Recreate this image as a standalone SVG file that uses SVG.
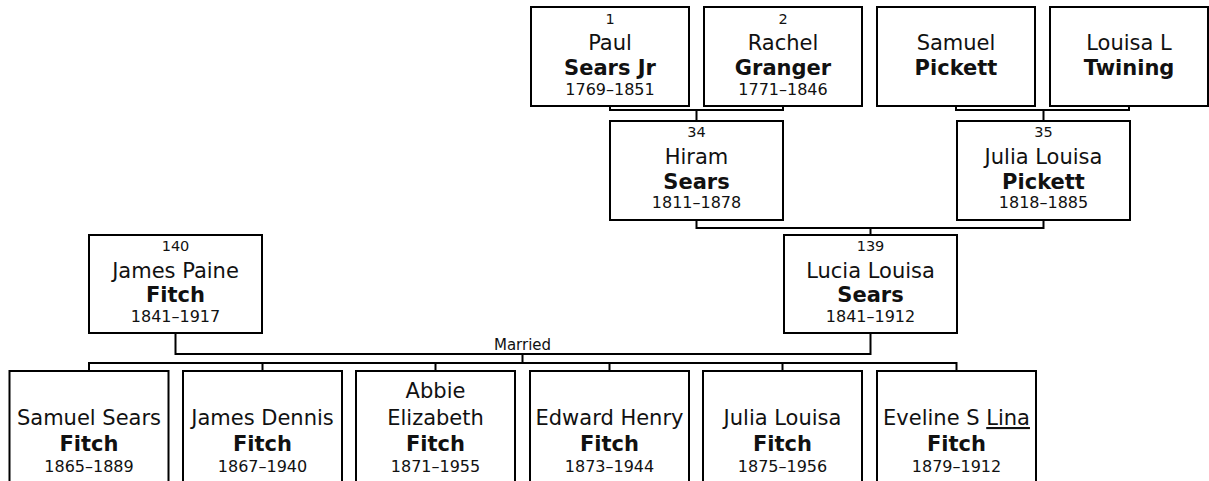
<svg xmlns="http://www.w3.org/2000/svg" width="1209" height="481" viewBox="0 0 1209 481">
<style>
.box{fill:#fff;stroke:#000;stroke-width:2}
.con{fill:none;stroke:#000;stroke-width:2}
text{font-family:"DejaVu Sans",Verdana,sans-serif;fill:#111;text-anchor:middle}
.num{font-size:14.5px}
.nm{font-size:21px}
.sn{font-size:21px;font-weight:bold}
.dt{font-size:16px}
.lbl{font-size:15px}
</style>
<rect width="1209" height="481" fill="#fff"/>
<g id="connectors">
<path class="con" d="M610 107V110H783V107M696.5 110V121"/>
<path class="con" d="M956 107V110H1129V107M1043.5 110V121"/>
<path class="con" d="M696.5 221V228H1043.5V221M870.5 228V235"/>
<path class="con" d="M175.5 334V354H870.5V334M522.5 354V363"/>
<path class="con" d="M89 371V363H956.5V371M262.5 363V371M435.5 363V371M609.5 363V371M782.5 363V371"/>
<text class="lbl" x="522.5" y="350">Married</text>
</g>
<g id="p1"><rect class="box" x="531" y="7" width="158" height="99"/>
<text class="num" x="610" y="24">1</text><text class="nm" x="610" y="50">Paul</text><text class="sn" x="610" y="75">Sears Jr</text><text class="dt" x="610" y="95">1769–1851</text></g>
<g id="p2"><rect class="box" x="704" y="7" width="158" height="99"/>
<text class="num" x="783" y="24">2</text><text class="nm" x="783" y="50">Rachel</text><text class="sn" x="783" y="75">Granger</text><text class="dt" x="783" y="95">1771–1846</text></g>
<g id="p3"><rect class="box" x="877" y="7" width="158" height="99"/>
<text class="nm" x="956" y="50">Samuel</text><text class="sn" x="956" y="75">Pickett</text></g>
<g id="p4"><rect class="box" x="1050" y="7" width="158" height="99"/>
<text class="nm" x="1129" y="50">Louisa L</text><text class="sn" x="1129" y="75">Twining</text></g>
<g id="p34"><rect class="box" x="610" y="121" width="173" height="99"/>
<text class="num" x="696.5" y="137">34</text><text class="nm" x="696.5" y="164">Hiram</text><text class="sn" x="696.5" y="189">Sears</text><text class="dt" x="696.5" y="208">1811–1878</text></g>
<g id="p35"><rect class="box" x="957" y="121" width="173" height="99"/>
<text class="num" x="1043.5" y="137">35</text><text class="nm" x="1043.5" y="164">Julia Louisa</text><text class="sn" x="1043.5" y="189">Pickett</text><text class="dt" x="1043.5" y="208">1818–1885</text></g>
<g id="p139"><rect class="box" x="784" y="235" width="173" height="98"/>
<text class="num" x="870.5" y="251">139</text><text class="nm" x="870.5" y="278">Lucia Louisa</text><text class="sn" x="870.5" y="302">Sears</text><text class="dt" x="870.5" y="322">1841–1912</text></g>
<g id="p140"><rect class="box" x="89" y="235" width="173" height="98"/>
<text class="num" x="175.5" y="251">140</text><text class="nm" x="175.5" y="278">James Paine</text><text class="sn" x="175.5" y="302">Fitch</text><text class="dt" x="175.5" y="322">1841–1917</text></g>
<g id="c1"><rect class="box" x="9.5" y="371" width="159" height="130"/>
<text class="nm" x="89" y="425">Samuel Sears</text><text class="sn" x="89" y="451">Fitch</text><text class="dt" x="89" y="472">1865–1889</text></g>
<g id="c2"><rect class="box" x="183" y="371" width="159" height="130"/>
<text class="nm" x="262.5" y="425">James Dennis</text><text class="sn" x="262.5" y="451">Fitch</text><text class="dt" x="262.5" y="472">1867–1940</text></g>
<g id="c3"><rect class="box" x="356" y="371" width="159" height="130"/>
<text class="nm" x="435.5" y="398">Abbie</text><text class="nm" x="435.5" y="425">Elizabeth</text><text class="sn" x="435.5" y="451">Fitch</text><text class="dt" x="435.5" y="472">1871–1955</text></g>
<g id="c4"><rect class="box" x="530" y="371" width="159" height="130"/>
<text class="nm" x="609.5" y="425">Edward Henry</text><text class="sn" x="609.5" y="451">Fitch</text><text class="dt" x="609.5" y="472">1873–1944</text></g>
<g id="c5"><rect class="box" x="703" y="371" width="159" height="130"/>
<text class="nm" x="782.5" y="425">Julia Louisa</text><text class="sn" x="782.5" y="451">Fitch</text><text class="dt" x="782.5" y="472">1875–1956</text></g>
<g id="c6"><rect class="box" x="877" y="371" width="159" height="130"/>
<text class="nm" x="956.5" y="425">Eveline S <tspan text-decoration="underline">Lina</tspan></text><text class="sn" x="956.5" y="451">Fitch</text><text class="dt" x="956.5" y="472">1879–1912</text></g>
</svg>
